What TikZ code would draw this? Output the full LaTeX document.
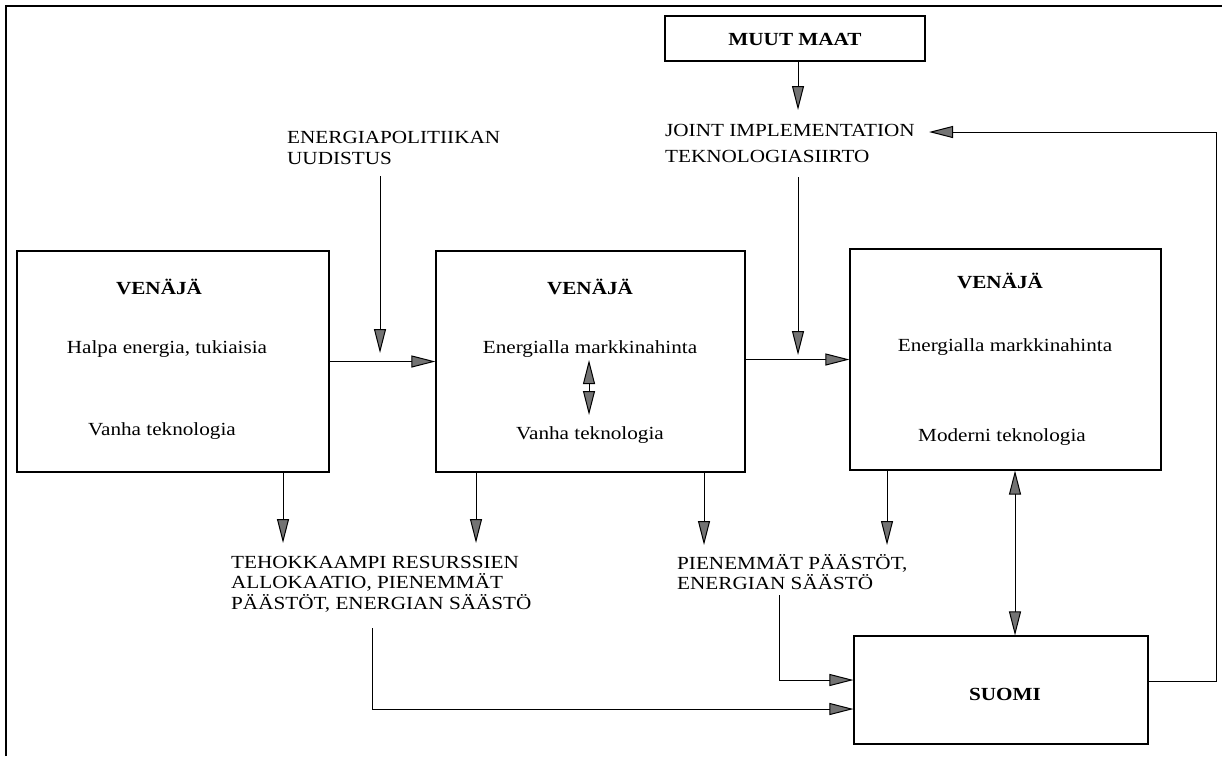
\documentclass[tikz,border=0pt]{standalone}
\usepackage{fontspec}
\setmainfont[FakeStretch=1.145]{Liberation Serif}
\usetikzlibrary{arrows.meta}
\newcommand{\lines}[1]{\begin{tabular}[t]{@{}l@{}}#1\end{tabular}}
\begin{document}
\begin{tikzpicture}[x=1pt,y=-1pt,
  every node/.style={font=\fontsize{18.5}{19}\selectfont, inner sep=0pt},
  boxn/.style={draw, line width=1.1pt},
  bold/.style={font=\fontsize{18.5}{19}\selectfont\bfseries},
  conn/.style={line width=1pt},
  tipend/.style={-{Triangle[length=24pt,width=12pt,fill=black!55]}},
  tipboth/.style={{Triangle[length=24pt,width=12pt,fill=black!55]}-{Triangle[length=24pt,width=12pt,fill=black!55]}}
]
\useasboundingbox (0,0) rectangle (1222,756);
% frame (top and left edges)
\draw[line width=1.3pt] (6,756) -- (6,6) -- (1222,6);

% boxes
\node[boxn, minimum width=312pt, minimum height=221pt] (box1) at (173,361.5) {};
\node[boxn, minimum width=309pt, minimum height=221pt] (box2) at (590.5,361.5) {};
\node[boxn, minimum width=311pt, minimum height=221pt] (box3) at (1005.5,359.5) {};
\node[boxn, minimum width=294pt, minimum height=108pt] (suomi) at (1001,690) {};
\node[boxn, minimum width=260pt, minimum height=45pt] (muut) at (795,38.5) {};

% box texts
\node[bold, anchor=base] (v1) at (159,294) {VENÄJÄ};
\node[anchor=base] (h1) at (167,353) {Halpa energia, tukiaisia};
\node[anchor=base] (t1) at (162,435) {Vanha teknologia};
\node[bold, anchor=base] (v2) at (590,294) {VENÄJÄ};
\node[anchor=base] (m2) at (590,353) {Energialla markkinahinta};
\node[anchor=base] (t2) at (590,439) {Vanha teknologia};
\node[bold, anchor=base] (v3) at (1000,288) {VENÄJÄ};
\node[anchor=base] (m3) at (1005,351) {Energialla markkinahinta};
\node[anchor=base] (t3) at (1002,441) {Moderni teknologia};
\node[bold, anchor=base] (su) at (1005,700) {SUOMI};
\node[bold, anchor=base] (mu) at (795,45) {MUUT MAAT};

% free labels
\node[anchor=base west] (energ) at (287,143) {\lines{ENERGIAPOLITIIKAN\\[2pt]UUDISTUS}};
\node[anchor=base west] (joint) at (665,136) {\lines{JOINT IMPLEMENTATION\\[7pt]TEKNOLOGIASIIRTO}};
\node[anchor=base west] (teho) at (231,568) {\lines{TEHOKKAAMPI RESURSSIEN\\ALLOKAATIO, PIENEMMÄT\\PÄÄSTÖT, ENERGIAN SÄÄSTÖ}};
\node[anchor=base west] (pien) at (677,569) {\lines{PIENEMMÄT PÄÄSTÖT,\\ENERGIAN SÄÄSTÖ}};

% coordinates for free ends
\coordinate (es) at (380,176);
\coordinate (et) at (380,353);
\coordinate (js) at (798,177);
\coordinate (jt) at (798,355);
\coordinate (mt) at (798,110);
\coordinate (jin) at (929,132);
\coordinate (d1) at (283,543);
\coordinate (d2) at (476,543);
\coordinate (d3) at (704,545);
\coordinate (d4) at (887,545);
\coordinate (ts) at (372,628);
\coordinate (ps) at (779,595);
\coordinate (da) at (589,360);
\coordinate (db) at (589,415);

% connectors
\draw[conn, tipend] (box1.east) -- (box2.west);
\draw[conn, tipend] (box2.east |- box3.west) -- (box3.west);
\draw[conn, tipend] (es) -- (et);
\draw[conn, tipend] (js) -- (jt);
\draw[conn, tipend] (muut.south -| mt) -- (mt);
\draw[conn, tipboth] (da) -- (db);
\draw[conn, tipend] (box1.south -| d1) -- (d1);
\draw[conn, tipend] (box2.south -| d2) -- (d2);
\draw[conn, tipend] (box2.south -| d3) -- (d3);
\draw[conn, tipend] (box3.south -| d4) -- (d4);
\draw[conn, tipend] (ts) |- (suomi.west |- 0,709);
\draw[conn, tipend] (ps) |- (suomi.west |- 0,680);
\draw[conn, tipboth] (box3.south -| 1015,0) -- (suomi.north -| 1015,0);
\draw[conn, tipend] (suomi.east |- 0,681) -- (1216,681) -- (1216,132) -- (jin);
\end{tikzpicture}
\end{document}
